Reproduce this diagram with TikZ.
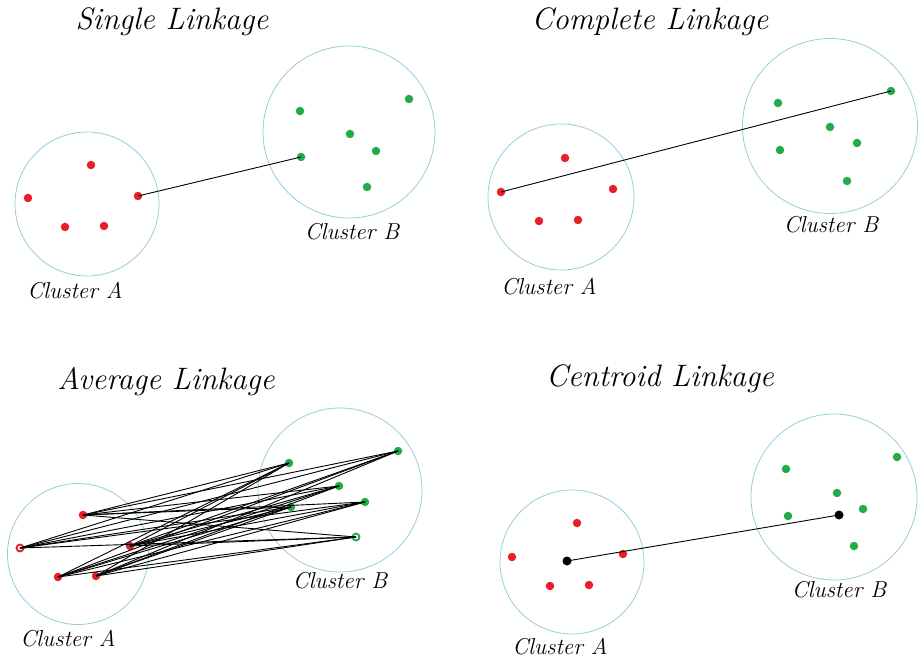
\documentclass[tikz,border=0pt]{standalone}
\definecolor{ringc}{RGB}{150,205,222}
\definecolor{redp}{RGB}{232,30,40}
\definecolor{greenp}{RGB}{35,170,75}
\tikzset{
  clus/.style={circle,draw=ringc,line width=0.8pt,inner sep=0pt},
  rdot/.style={circle,fill=redp,inner sep=0pt,minimum size=8.5pt},
  gdot/.style={circle,fill=greenp,inner sep=0pt,minimum size=8.5pt},
  rring/.style={circle,draw=redp,fill=white,line width=1.8pt,inner sep=0pt,minimum size=7pt},
  gring/.style={circle,draw=greenp,fill=white,line width=1.8pt,inner sep=0pt,minimum size=7pt},
  kdot/.style={circle,fill=black,inner sep=0pt,minimum size=9pt},
  link/.style={draw=black,line width=0.9pt},
  ttl/.style={font=\fontsize{31}{33}\selectfont\itshape},
  lbl/.style={font=\fontsize{23}{25}\selectfont\itshape}
}
\begin{document}
\begin{tikzpicture}[x=1pt,y=-1pt]
\useasboundingbox (0,0) rectangle (919,660);
% ---------- Single linkage ----------
\node[ttl] (t1) at (172,22) {Single Linkage};
\node[clus,minimum size=144pt] (c1a) at (87,204) {};
\node[clus,minimum size=172pt] (c1b) at (349,132) {};
\node[rdot] (a11) at (91,165) {};
\node[rdot] (a12) at (28,198) {};
\node[rdot] (a13) at (138,196) {};
\node[rdot] (a14) at (65,227) {};
\node[rdot] (a15) at (104,226) {};
\node[gdot] (b11) at (300,111) {};
\node[gdot] (b12) at (409,99) {};
\node[gdot] (b13) at (350,134) {};
\node[gdot] (b14) at (376,151) {};
\node[gdot] (b15) at (301,157) {};
\node[gdot] (b16) at (367,187) {};
\draw[link] (a13.center) -- (b15.center);
\node[lbl] (l1b) at (352,232) {Cluster B};
\node[lbl] (l1a) at (75,291) {Cluster A};
% ---------- Complete linkage ----------
\node[ttl] (t2) at (650,22) {Complete Linkage};
\node[clus,minimum size=146pt] (c2a) at (561,197) {};
\node[clus,minimum size=175pt] (c2b) at (830,126) {};
\node[rdot] (a21) at (565,158) {};
\node[rdot] (a22) at (501,192) {};
\node[rdot] (a23) at (613,189) {};
\node[rdot] (a24) at (539,221) {};
\node[rdot] (a25) at (578,220) {};
\node[gdot] (b21) at (778,103) {};
\node[gdot] (b22) at (891,91) {};
\node[gdot] (b23) at (830,127) {};
\node[gdot] (b24) at (857,143) {};
\node[gdot] (b25) at (780,150) {};
\node[gdot] (b26) at (847,181) {};
\draw[link] (a22.center) -- (b22.center);
\node[lbl] (l2b) at (831,225) {Cluster B};
\node[lbl] (l2a) at (549,287) {Cluster A};
% ---------- Average linkage ----------
\node[ttl] (t3) at (166,382) {Average Linkage};
\node[clus,minimum size=141pt] (c3a) at (78,554) {};
\node[clus,minimum size=164pt] (c3b) at (340,490) {};
\node[rdot] (a31) at (83,515) {};
\node[rring] (a32) at (20,548) {};
\node[rdot] (a33) at (130,546) {};
\node[rdot] (a34) at (58,577) {};
\node[rdot] (a35) at (96,576) {};
\node[gdot] (b31) at (289,463) {};
\node[gdot] (b32) at (398,451) {};
\node[gdot] (b33) at (339,486) {};
\node[gdot] (b34) at (365,502) {};
\node[gdot] (b35) at (291,507) {};
\node[gring] (b36) at (356,537) {};
\foreach \i in {1,...,5}{
  \foreach \j in {1,...,6}{
    \draw[link] (a3\i.center) -- (b3\j.center);
  }
}
\node[lbl] (l3b) at (340,581) {Cluster B};
\node[lbl] (l3a) at (68,639) {Cluster A};
% ---------- Centroid linkage ----------
\node[ttl] (t4) at (660,379) {Centroid Linkage};
\node[clus,minimum size=144pt] (c4a) at (572,562) {};
\node[clus,minimum size=166pt] (c4b) at (834,497) {};
\node[rdot] (a41) at (577,523) {};
\node[rdot] (a42) at (512,557) {};
\node[rdot] (a43) at (623,554) {};
\node[rdot] (a44) at (550,586) {};
\node[rdot] (a45) at (589,585) {};
\node[gdot] (b41) at (786,469) {};
\node[gdot] (b42) at (897,457) {};
\node[gdot] (b43) at (837,493) {};
\node[gdot] (b44) at (863,509) {};
\node[gdot] (b45) at (788,516) {};
\node[gdot] (b46) at (854,546) {};
\node[kdot] (ca) at (567,561) {};
\node[kdot] (cb) at (839,515) {};
\draw[link] (ca.center) -- (cb.center);
\node[lbl] (l4b) at (839,590) {Cluster B};
\node[lbl] (l4a) at (560,647) {Cluster A};
\end{tikzpicture}
\end{document}
